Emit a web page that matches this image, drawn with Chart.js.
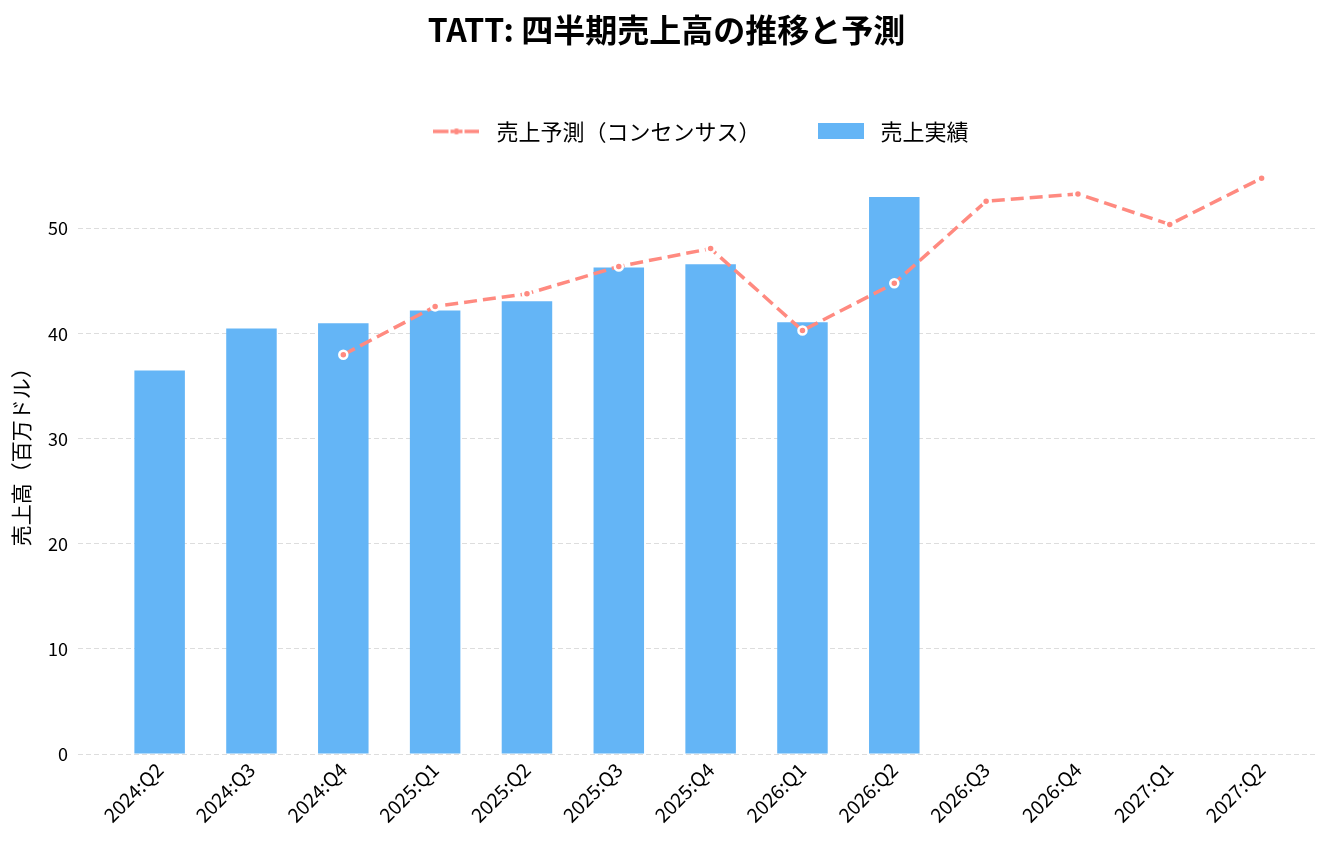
<!DOCTYPE html>
<html>
<head>
<meta charset="utf-8">
<script src="https://cdn.jsdelivr.net/npm/chart.js@4"></script>
<style>
  html, body { margin: 0; padding: 0; background: #fff; }
  #wrap { width: 1333px; height: 846px; }
</style>
</head>
<body>
<div id="wrap"><canvas id="myChart"></canvas></div>
<script>
const quarters = ['2024:Q2', '2024:Q3', '2024:Q4', '2025:Q1', '2025:Q2', '2025:Q3', '2025:Q4',
                  '2026:Q1', '2026:Q2', '2026:Q3', '2026:Q4', '2027:Q1', '2027:Q2'];
const actual = [36.5, 40.5, 41.0, 42.2, 43.1, 46.3, 46.6, 41.1, 53.0, null, null, null, null];
const forecast = [null, null, 38.0, 42.6, 43.8, 46.4, 48.1, 40.3, 44.8, 52.6, 53.3, 50.4, 54.8];
const yTicks = [0, 10, 20, 30, 40, 50];

const FONT = '"Noto Sans CJK JP", "Noto Sans", sans-serif';
const barColor = '#64B5F6';
const lineColor = '#FF8A80';

// legend samples
function lineSample() {
  const c = document.createElement('canvas');
  c.width = 46; c.height = 10;
  const g = c.getContext('2d');
  g.strokeStyle = lineColor;
  g.lineWidth = 3.5;
  g.beginPath(); g.moveTo(0, 5); g.lineTo(15, 5); g.stroke();
  g.beginPath(); g.moveTo(31, 5); g.lineTo(46, 5); g.stroke();
  g.fillStyle = lineColor;
  g.fillRect(17, 3.25, 3, 3.5);
  g.fillRect(26, 3.25, 3, 3.5);
  g.beginPath(); g.arc(23, 5, 3, 0, Math.PI * 2); g.fill();
  return c;
}
function barSample() {
  const c = document.createElement('canvas');
  c.width = 46; c.height = 16;
  const g = c.getContext('2d');
  g.fillStyle = barColor;
  g.fillRect(0, 0, 46, 16);
  return c;
}

const toPoints = arr => arr.map((v, i) => ({ x: i, y: v }));

const data = {
  datasets: [
    {
      type: 'line',
      label: '売上予測（コンセンサス）',
      data: toPoints(forecast),
      borderColor: lineColor,
      backgroundColor: lineColor,
      borderWidth: 3.5,
      borderDash: [13, 6],
      pointRadius: 4,
      pointBorderWidth: 2.5,
      pointBorderColor: '#ffffff',
      pointBackgroundColor: lineColor,
      spanGaps: false,
      tension: 0
    },
    {
      type: 'bar',
      label: '売上実績',
      data: toPoints(actual),
      backgroundColor: barColor,
      categoryPercentage: 1,
      barPercentage: 0.55
    }
  ]
};

const samples = [lineSample(), barSample()];

const config = {
  type: 'bar',
  data: data,
  options: {
    responsive: true,
    maintainAspectRatio: false,
    animation: false,
    layout: { padding: { left: 15, right: 15, top: 0, bottom: 0 } },
    plugins: {
      title: {
        display: true,
        text: 'TATT: 四半期売上高の推移と予測',
        color: '#000',
        font: { family: FONT, size: 32, weight: 'bold' },
        padding: { top: 11, bottom: 20 }
      },
      legend: {
        display: true,
        position: 'top',
        fullSize: false,
        maxHeight: 80,
        labels: {
          color: '#000',
          font: { family: FONT, size: 22 },
          usePointStyle: true,
          pointStyleWidth: 58,
          padding: 51,
          generateLabels: chart => chart.data.datasets.map((ds, i) => ({
            text: ds.label,
            pointStyle: samples[i],
            fillStyle: 'transparent',
            strokeStyle: 'transparent',
            lineWidth: 0,
            datasetIndex: i,
            hidden: false
          }))
        }
      },
      tooltip: { enabled: false }
    },
    scales: {
      x: {
        type: 'linear',
        offset: false,
        min: -0.889,
        max: 12.614,
        afterFit: s => { s.height = 92; },
        grid: { display: false, drawTicks: false },
        border: { display: false },
        ticks: {
          stepSize: 1,
          includeBounds: false,
          autoSkip: false,
          maxRotation: 45,
          minRotation: 45,
          padding: 4,
          color: '#000',
          font: { family: FONT, size: 19.5 },
          callback: v => (Number.isInteger(v) && quarters[v]) ? quarters[v] : null
        }
      },
      y: {
        min: 0,
        max: 57.54,
        afterFit: s => { s.width = 63; },
        afterBuildTicks: s => { s.ticks = yTicks.map(v => ({ value: v })); },
        grid: {
          color: '#dddddd',
          lineWidth: 1,
          drawTicks: false
        },
        border: { display: false, dash: [5, 3] },
        ticks: {
          padding: 10,
          color: '#000',
          font: { family: FONT, size: 18 }
        },
        title: {
          display: true,
          text: '売上高（百万ドル）',
          color: '#000',
          font: { family: FONT, size: 21 },
          padding: { top: -7, bottom: 0 }
        }
      }
    }
  }
};

const myChart = new Chart(document.getElementById('myChart'), config);
</script>
</body>
</html>
